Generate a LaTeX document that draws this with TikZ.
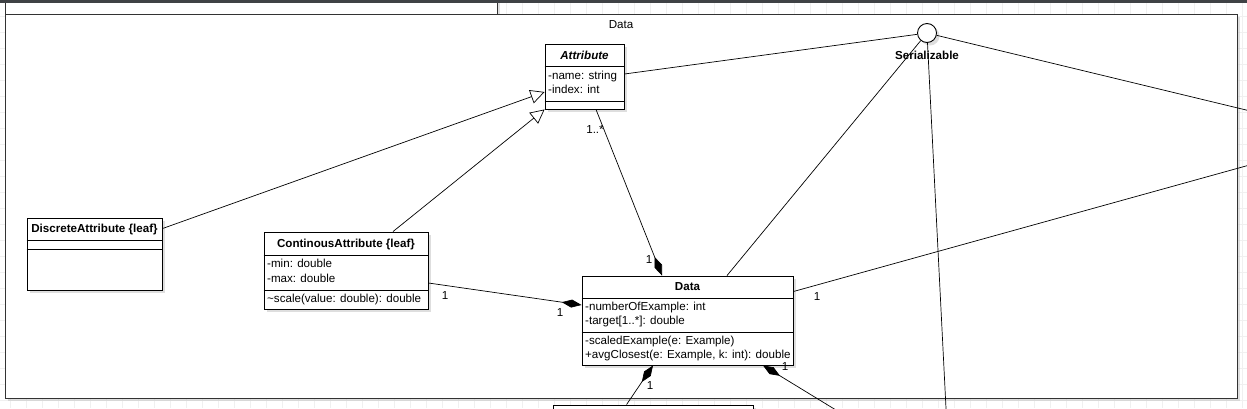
\documentclass[tikz,border=0pt]{standalone}
\usepackage{fontspec}
\setmainfont{Liberation Sans}
\usetikzlibrary{arrows.meta,calc,shadows}
\definecolor{barcol}{HTML}{3F4245}

\begin{document}
\begin{tikzpicture}[
    x=1pt, y=-1pt,
    txt/.style={font=\fontsize{11.6}{13}\selectfont, inner sep=0pt},
    pkgbox/.style={draw=black!80, fill=white, line width=0.9pt,
      drop shadow={shadow xshift=3pt, shadow yshift=-3pt, fill=black!25}},
    classbox/.style={draw=black, fill=white, line width=0.9pt, inner sep=0pt,
      drop shadow={shadow xshift=3pt, shadow yshift=-3pt, fill=black!25}},
    classname/.style={txt, font=\fontsize{11.6}{13}\selectfont\bfseries},
    member/.style={txt, anchor=west},
    mult/.style={txt},
    sepline/.style={line width=0.9pt},
    gridline/.style={black!6, line width=0.8pt},
    conn/.style={line width=0.7pt},
    genarrow/.style={conn, -{Triangle[open, length=14pt, width=14pt]}},
    compo/.style={conn, -{Diamond[length=20pt, width=8pt]}},
    ]

    \useasboundingbox (0,0) rectangle (1247,408);
    \clip (0,0) rectangle (1247,408);

    % --- Background grid ---
    \foreach \gx in {10,26,...,1247} \draw[gridline] (\gx,0) -- (\gx,408);
    \foreach \gy in {0,16,...,408} \draw[gridline] (0,\gy) -- (1247,\gy);

    % --- Package ---
    \node[pkgbox, minimum width=492pt, minimum height=30pt] (pkgtab) at (251,-1) {};
    \node[pkgbox, minimum width=1232pt, minimum height=384pt] (pkg) at (621,206) {};
    \node[txt] (pkgname) at (621,25) {Data};
    % top bar of the window
    \fill[barcol] (0,0) rectangle (1247,2.5);

    % --- Classes ---
    % Attribute (abstract)
    \node[classbox, minimum width=79pt, minimum height=65pt] (attr) at (584.5,76.5) {};
    \node[classname, font=\fontsize{11.6}{13}\selectfont\bfseries\itshape] (attrname) at (584.5,55) {Attribute};
    \draw[sepline] (attr.west |- 0,66) -- (attr.east |- 0,66);
    \node[member] (attrname1) at (548,76) {-name: string};
    \node[member] (attrindex) at (548,89) {-index: int};
    \draw[sepline] (attr.west |- 0,101) -- (attr.east |- 0,101);

    % DiscreteAttribute
    \node[classbox, minimum width=135pt, minimum height=72pt] (disc) at (94.5,254) {};
    \node[classname] (discname) at (94.5,229) {DiscreteAttribute \{leaf\}};
    \draw[sepline] (disc.west |- 0,240) -- (disc.east |- 0,240);
    \draw[sepline] (disc.west |- 0,249) -- (disc.east |- 0,249);

    % ContinousAttribute
    \node[classbox, minimum width=164pt, minimum height=77pt] (cont) at (346,270.5) {};
    \node[classname] (contname) at (346,244) {ContinousAttribute \{leaf\}};
    \draw[sepline] (cont.west |- 0,255) -- (cont.east |- 0,255);
    \node[member] (contmin) at (267,263) {-min: double};
    \node[member] (contmax) at (267,278) {-max: double};
    \draw[sepline] (cont.west |- 0,290) -- (cont.east |- 0,290);
    \node[member] (contscale) at (267,299) {\textasciitilde scale(value: double): double};

    % Data
    \node[classbox, minimum width=211pt, minimum height=89pt] (data) at (687.5,320.5) {};
    \node[classname] (dataname) at (687.5,287) {Data};
    \draw[sepline] (data.west |- 0,298) -- (data.east |- 0,298);
    \node[member] (datanum) at (585,307) {-numberOfExample: int};
    \node[member] (datatarget) at (585,321) {-target[1..*]: double};
    \draw[sepline] (data.west |- 0,332) -- (data.east |- 0,332);
    \node[member] (datascaled) at (585,341) {-scaledExample(e: Example)};
    \node[member] (dataavg) at (585,355) {+avgClosest(e: Example, k: int): double};

    % class below the package (cut off)
    \node[classbox, minimum width=200pt, minimum height=40pt] (lower) at (653,425) {};

    % Serializable interface
    \node[classbox, circle, minimum size=19pt] (ser) at (927,33) {};
    \node[classname] (sername) at (927,55) {Serializable};

    % --- Free ends outside the view ---
    \coordinate (offS) at (947.6,440);
    \coordinate (offE) at (1300,123);
    \coordinate (offD) at (1300,151);
    \coordinate (offB) at (885,440);

    % --- Generalisations ---
    \draw[genarrow] ($(disc.north east)+(0,11)$) -- ($(attr.west)+(0,15.5)$);
    \draw[genarrow] ($(cont.north)+(47,0)$) -- (attr.south west);

    % --- Compositions ---
    \draw[compo] ($(attr.south)+(11.5,0)$) -- ($(data.north)+(-25.5,0)$);
    \draw[compo] ($(cont.east)+(0,12.5)$) -- ($(data.west)+(0,-15.5)$);
    \draw[compo] ($(lower.north west)+(74,0)$) -- ($(data.south)+(-34.5,0)$);
    \draw[compo] (offB) -- ($(data.south)+(75.5,0)$);

    % --- Realisations of Serializable ---
    \draw[conn] ($(attr.east)+(0,-2.5)$) -- (ser);
    \draw[conn] ($(data.north)+(39.5,0)$) -- (ser);
    \draw[conn] (ser) -- (offS);
    \draw[conn] (ser) -- (offE);
    \draw[conn] ($(data.east)+(0,-29)$) -- (offD);

    % --- Multiplicities ---
    \node[mult] (m1) at (595,130) {1..*};
    \node[mult] (m2) at (649,260) {1};
    \node[mult] (m3) at (445,296) {1};
    \node[mult] (m4) at (560,313) {1};
    \node[mult] (m5) at (817,297) {1};
    \node[mult] (m6) at (650,386) {1};
    \node[mult] (m7) at (785,367) {1};

  \end{tikzpicture}
\end{document}
